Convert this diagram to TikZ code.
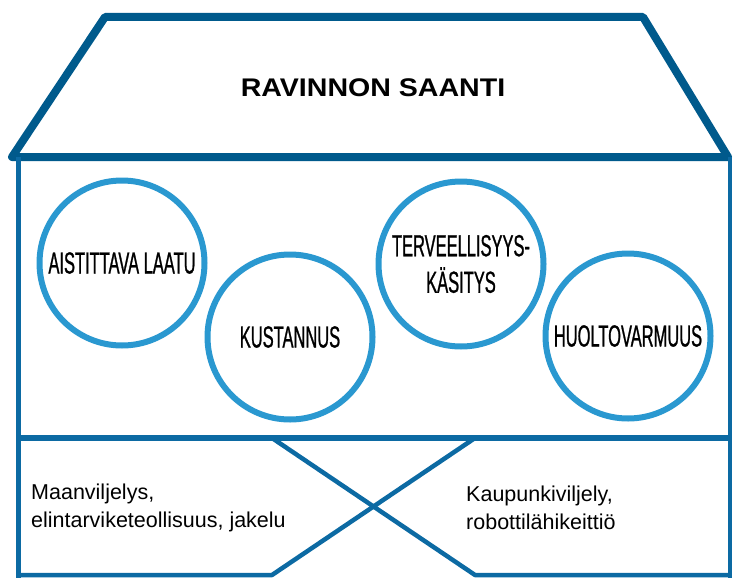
\documentclass[tikz,border=0pt]{standalone}
\usepackage{fontspec}
\setmainfont{Liberation Sans}
\newfontfamily\narrowfont[FakeStretch=0.54,FakeBold=0.8]{Liberation Sans}
\newfontfamily\widefont[FakeStretch=1.12]{Liberation Sans}
\usepackage{tikz}
\usetikzlibrary{positioning}
\definecolor{roofblue}{RGB}{0,90,140}
\definecolor{wallblue}{RGB}{12,106,163}
\definecolor{ringblue}{RGB}{42,152,208}

\begin{document}
\begin{tikzpicture}[x=1pt,y=-1pt,
    line join=round,
    ring/.style={circle,draw=ringblue,line width=6pt,minimum size=165pt,
      inner sep=0pt,align=center,font=\narrowfont\fontsize{30.5}{36.5}\selectfont},
    note/.style={anchor=west,inner sep=0pt,align=left,
      font=\fontsize{21.5}{28}\selectfont}]
  \useasboundingbox (0,0) rectangle (733,578);
  \draw[roofblue,line width=8pt] (12,157) -- (105,17) -- (643,17) -- (728,157) -- cycle;
  \draw[wallblue,line width=5pt] (18,157) -- (18,578);
  \draw[wallblue,line width=3.5pt] (730,157) -- (730,578);
  \draw[wallblue,line width=6pt] (18,438) -- (730,438);
  \draw[wallblue,line width=4.5pt] (18,575) -- (272,575) -- (475,438);
  \draw[wallblue,line width=4.5pt] (272,438) -- (475,575) -- (730,575);
  \node[font=\widefont\bfseries\fontsize{25.5}{30}\selectfont] (title) at (373,88) {RAVINNON SAANTI};
  \node[ring] (laatu) at (122,263) {AISTITTAVA LAATU};
  \node[ring] (kustannus) at (290,337) {KUSTANNUS};
  \node[ring] (terveys) at (461,264) {TERVEELLISYYS-\\K\"ASITYS};
  \node[ring] (huolto) at (628,336) {HUOLTOVARMUUS};
  \node[note] (maa) at (31,508) {Maanviljelys,\\elintarviketeollisuus, jakelu};
  \node[note] (kaupunki) at (466,508) {Kaupunkiviljely,\\robottil\"ahikeitti\"o};
\end{tikzpicture}
\end{document}
